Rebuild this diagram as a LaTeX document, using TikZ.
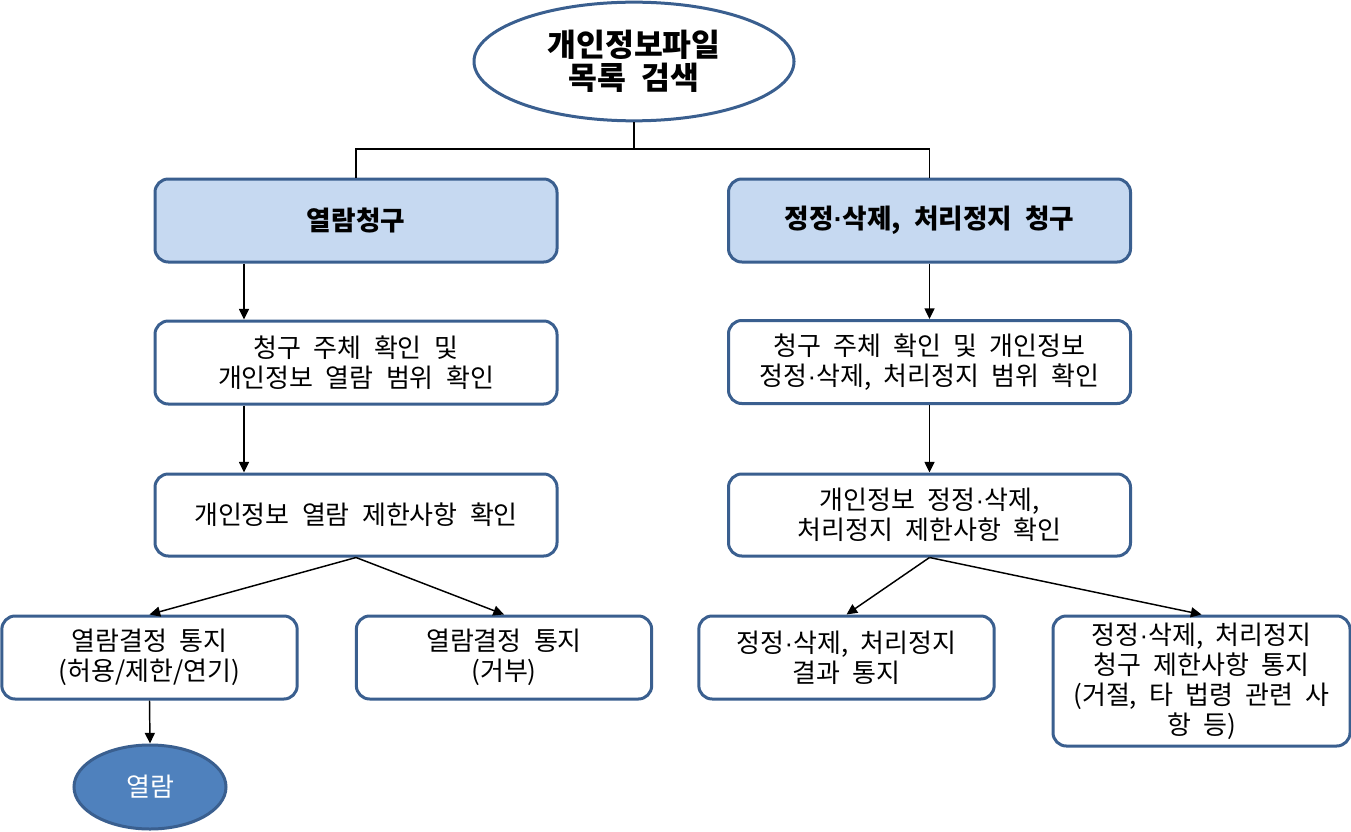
\documentclass[tikz,border=0pt]{standalone}
\usepackage{fontspec}
\setmainfont[WordSpace=2.1]{Noto Sans CJK KR}
\newfontfamily\latinf{Liberation Sans}
\newcommand{\md}{{\latinf ·}}
\usetikzlibrary{shapes.geometric,arrows.meta}
\definecolor{bord}{HTML}{3A5F8F}
\definecolor{lblue}{HTML}{C6D9F1}
\definecolor{mblue}{HTML}{4F81BD}
\tikzset{
  box/.style={draw=bord,line width=2.25pt,rounded corners=10pt,fill=white,align=center,inner sep=0pt,
    minimum width=301.5pt,minimum height=62.25pt,font=\fontsize{19.5pt}{22.5pt}\selectfont},
  hbox/.style={box,fill=lblue,font=\fontsize{20pt}{22.5pt}\selectfont\bfseries},
  sbox/.style={box,minimum width=221.5pt},
  oval/.style={ellipse,draw=bord,line width=2.25pt,align=center,inner sep=0pt},
  conn/.style={line width=1.1pt},
  arr/.style={conn,-{Triangle[width=7.5pt,length=8pt]}}
}
\begin{document}
\begin{tikzpicture}[x=0.75pt,y=-0.75pt]
\useasboundingbox (0,0) rectangle (1351,831);
\fill[white] (0,0) rectangle (1351,831);
\node[oval,fill=white,minimum width=240pt,minimum height=89pt,font=\fontsize{23.5pt}{25pt}\selectfont\bfseries] (top) at (634,61.5) {개인정보파일\\목록 검색};
\node[hbox] (A) at (356,220.5) {열람청구};
\node[hbox] (B) at (929.5,220.5) {정정\md 삭제, 처리정지 청구};
\node[box] (A2) at (356,362.5) {청구 주체 확인 및\\개인정보 열람 범위 확인};
\node[box] (B2) at (929.5,362) {청구 주체 확인 및 개인정보\\정정\md 삭제, 처리정지 범위 확인};
\node[box,minimum height=61.5pt] (A3) at (356,515) {개인정보 열람 제한사항 확인};
\node[box,minimum height=61.5pt] (B3) at (929.5,515) {개인정보 정정\md 삭제,\\처리정지 제한사항 확인};
\node[sbox] (A4) at (149.5,657.5) {열람결정 통지\\(허용/제한/연기)};
\node[sbox] (A5) at (504,657.5) {열람결정 통지\\(거부)};
\node[sbox] (B4) at (846.5,657.5) {정정\md 삭제, 처리정지\\결과 통지};
\node[sbox,minimum width=222.75pt,minimum height=97.5pt] (B5) at (1201.5,681) {정정\md 삭제, 처리정지\\청구 제한사항 통지\\(거절, 타 법령 관련 사\\항 등)};
\node[oval,fill=mblue,text=white,minimum width=114pt,minimum height=63pt,font=\fontsize{19.5pt}{22.5pt}\selectfont] (E) at (150,787) {열람};
% connectors
\coordinate (j) at (634,149);
\draw[conn] (top.south) -- (top.south |- j);
\draw[conn] (A.north) |- (j) -| (B.north);
\draw[arr] ([xshift=-84pt]A.south) -- ([xshift=-84pt]A2.north);
\draw[arr] ([xshift=-84pt]A2.south) -- ([xshift=-84pt]A3.north);
\draw[arr] (B.south) -- (B2.north);
\draw[arr] (B2.south) -- (B3.north);
\draw[arr] (A3.south) -- (A4.north);
\draw[arr] (A3.south) -- (A5.north);
\draw[arr] (B3.south) -- (B4.north);
\draw[arr] (B3.south) -- (B5.north);
\draw[arr] (A4.south) -- (E.north);
\end{tikzpicture}
\end{document}
